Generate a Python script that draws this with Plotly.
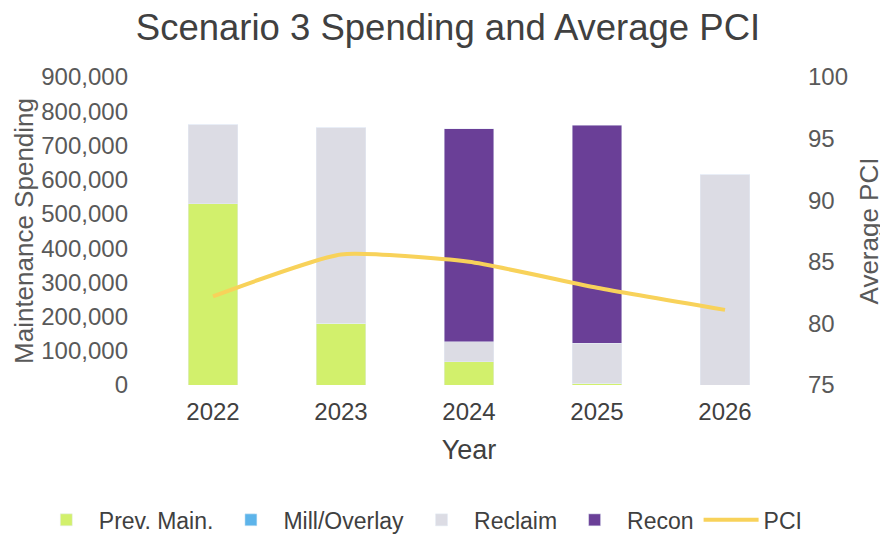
import plotly.graph_objects as go

years = ['2022', '2023', '2024', '2025', '2026']
prev_main = [530000, 180000, 68000, 5000, 0]
mill_overlay = [0, 0, 0, 0, 0]
reclaim = [231000, 571000, 58000, 117000, 615000]
recon = [0, 0, 623000, 637000, 0]
pci = [82.2, 85.6, 85.0, 82.9, 81.1]

font = 'Liberation Sans, Arial, sans-serif'
grey_txt = '#595959'

fig = go.Figure()
fig.add_trace(go.Bar(name='Prev. Main.', x=years, y=prev_main, marker_color='#d2f06c'))
fig.add_trace(go.Bar(name='Mill/Overlay', x=years, y=mill_overlay, marker_color='#5db4ea'))
fig.add_trace(go.Bar(name='Reclaim', x=years, y=reclaim, marker_color='#dcdce4'))
fig.add_trace(go.Bar(name='Recon', x=years, y=recon, marker_color='#6a3f97'))
fig.add_trace(go.Scatter(name='PCI', x=years, y=pci, yaxis='y2', mode='lines',
                         line=dict(color='#f8d25a', width=4, shape='spline', smoothing=0.5)))

# page body adds an 8px margin, so the figure is 8px smaller than the window
fig.update_layout(
    barmode='stack',
    bargap=0.61,
    width=880, height=527,
    margin=dict(l=141, r=99, t=69, b=150, autoexpand=False),
    paper_bgcolor='white', plot_bgcolor='white',
    font=dict(family=font, color=grey_txt, size=24),
    title=dict(text='Scenario 3 Spending and Average PCI', x=0.5, xanchor='center',
               y=0.964, yanchor='middle', font=dict(size=36.5, color='#404040')),
    xaxis=dict(title=dict(text='Year', font=dict(size=27, color='#404040'), standoff=16),
               tickfont=dict(size=24, color='#404040'), showgrid=False, showline=False,
               ticklabelstandoff=10),
    yaxis=dict(title=dict(text='Maintenance Spending', font=dict(size=26), standoff=0),
               range=[0, 900000], dtick=100000, tickformat=',d', showgrid=False,
               zeroline=False, ticks='', ticklabelstandoff=20),
    yaxis2=dict(title=dict(text='Average PCI', font=dict(size=26), standoff=12),
                overlaying='y', side='right', range=[75, 100], dtick=5,
                showgrid=False, zeroline=False, ticklabelstandoff=18),
    legend=dict(orientation='h', x=-0.18, xanchor='left', y=-0.438, yanchor='middle',
                font=dict(size=23, color='#404040'), traceorder='normal',
                itemwidth=55),
)

fig.write_html("out.html")
